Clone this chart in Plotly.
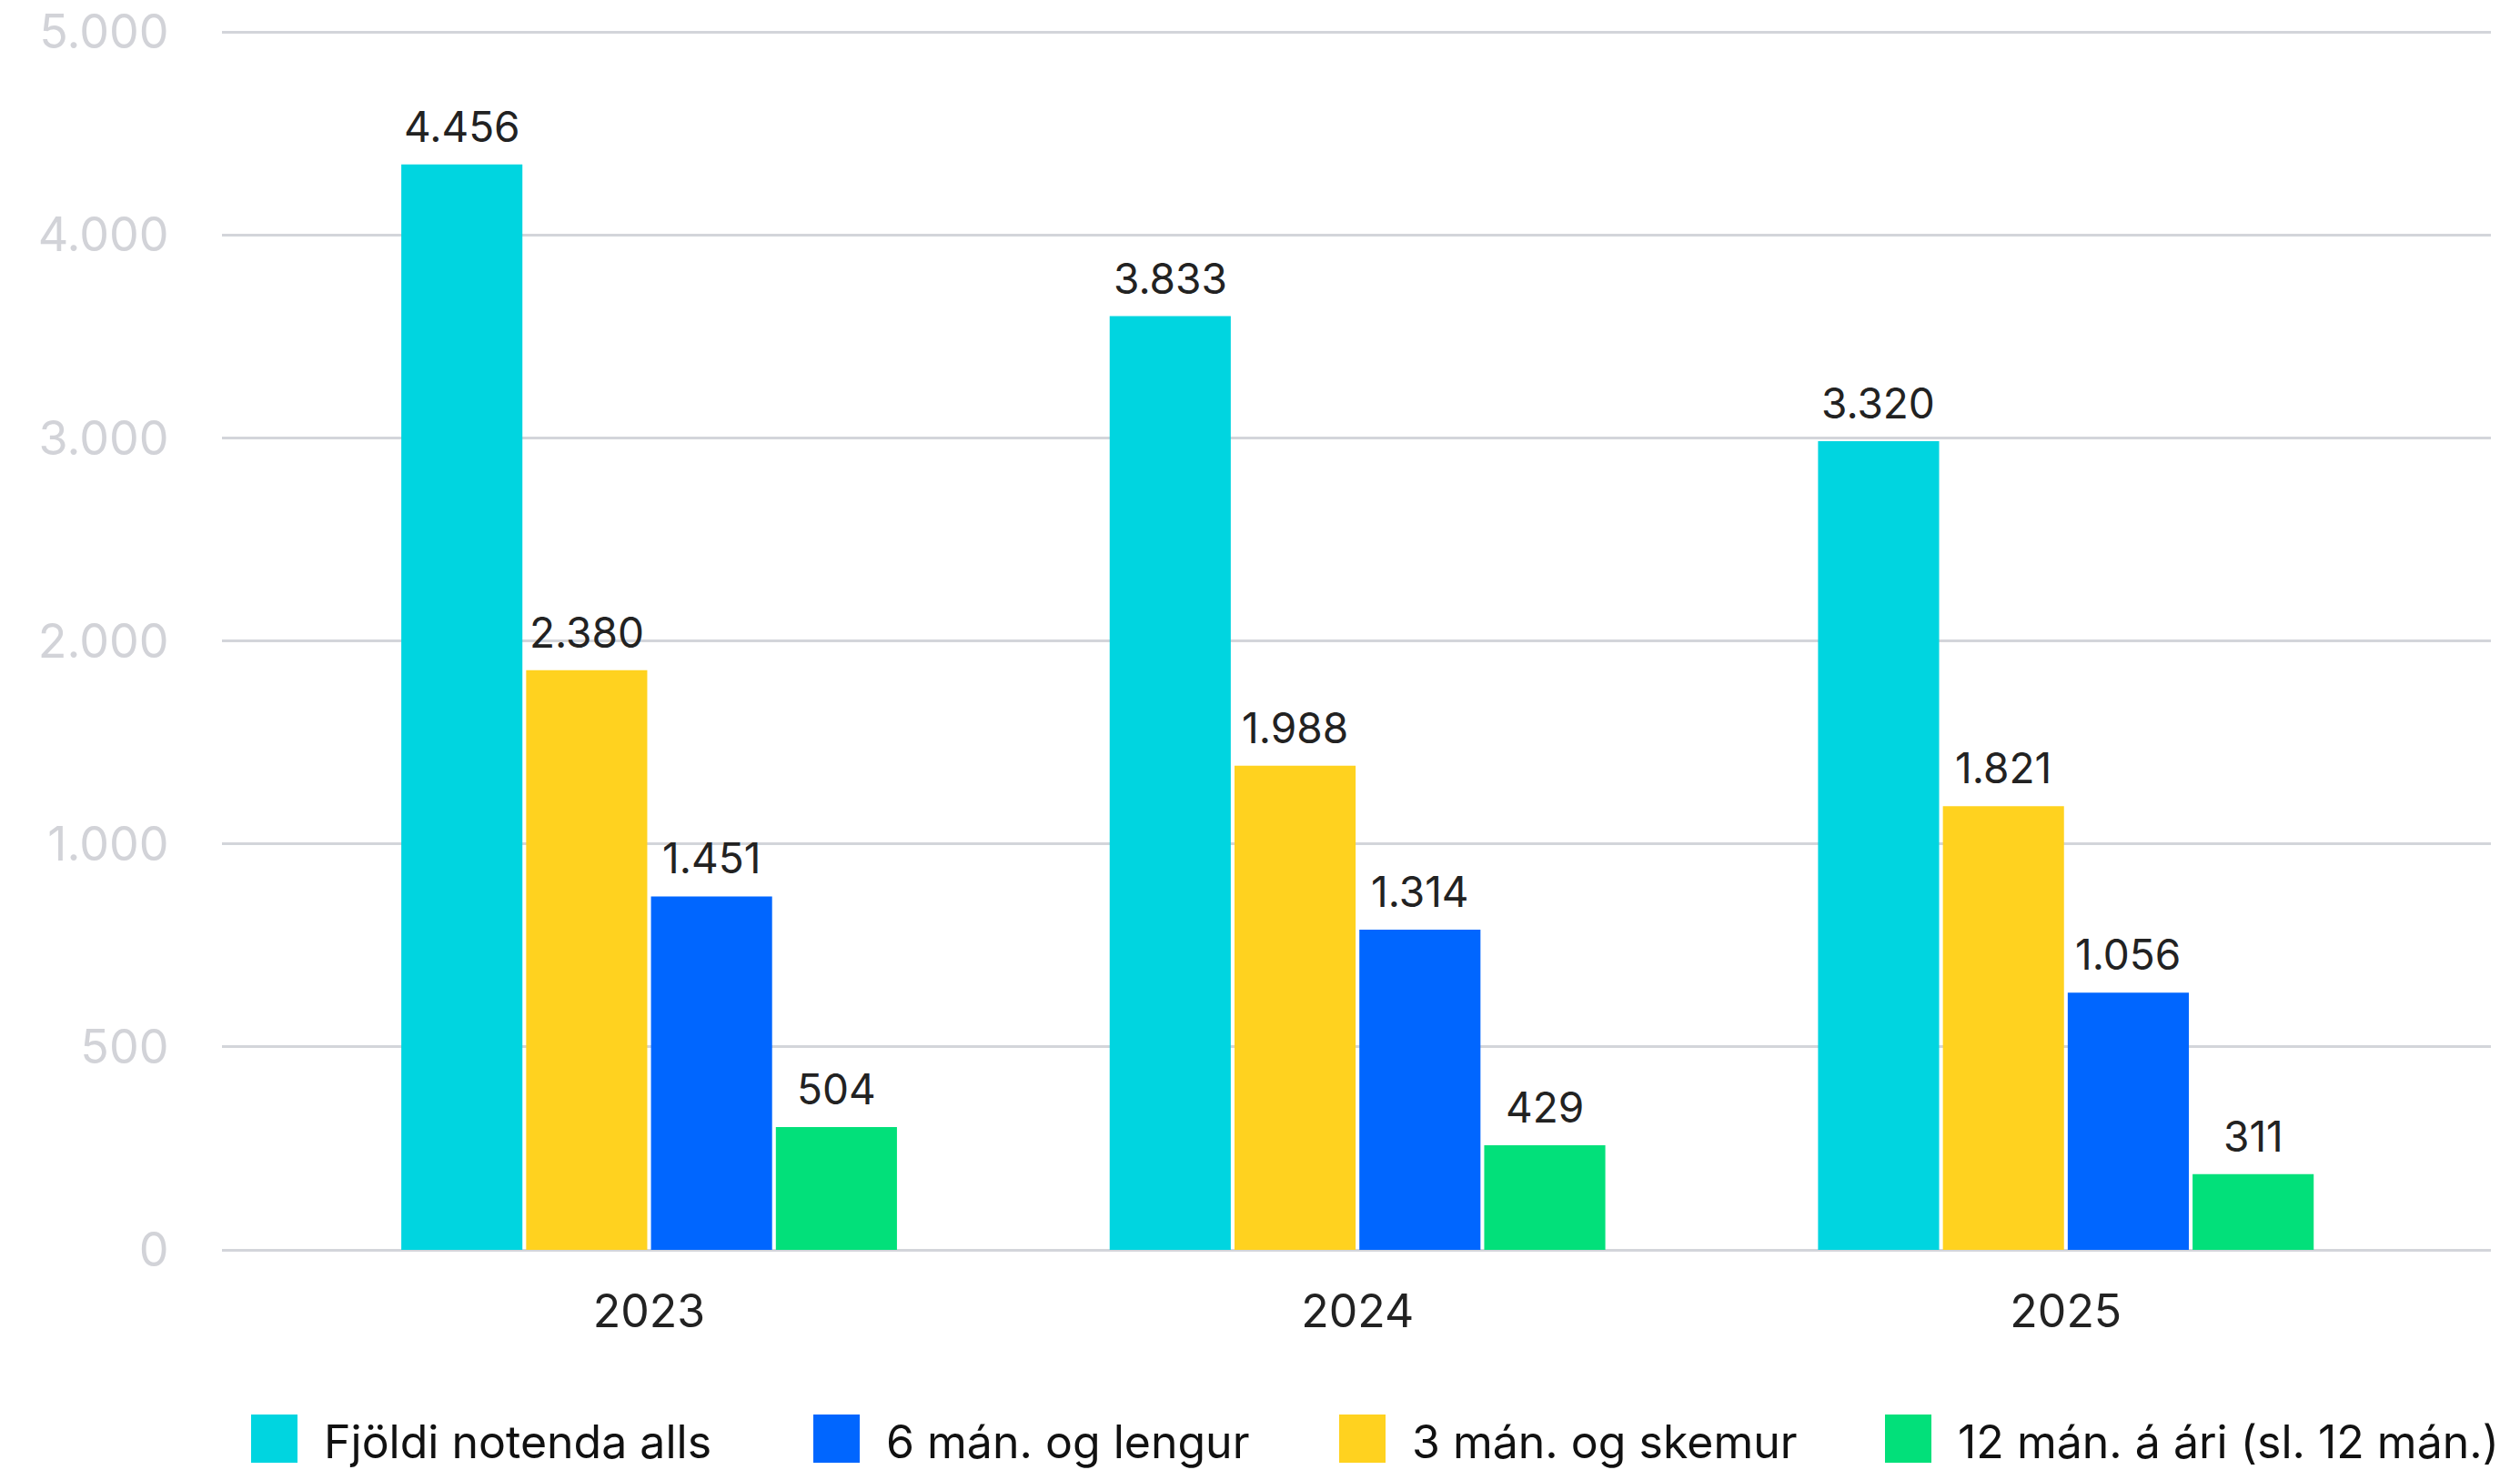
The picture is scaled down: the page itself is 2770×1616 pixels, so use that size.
import plotly.graph_objects as go

# Gögn
ar = ["2023", "2024", "2025"]
fjoldi_alls = [4456, 3833, 3320]
skemur_3man = [2380, 1988, 1821]
lengur_6man = [1451, 1314, 1056]
ar_12man = [504, 429, 311]

y_tick_labels = ["0", "500", "1.000", "2.000", "3.000", "4.000", "5.000"]

# röð súlna innan hvers árs (vinstri -> hægri)
series = [
    ("Fjöldi notenda alls", fjoldi_alls, "#00D5E0"),
    ("3 mán. og skemur", skemur_3man, "#FFD21F"),
    ("6 mán. og lengur", lengur_6man, "#0066FF"),
    ("12 mán. á ári (sl. 12 mán.)", ar_12man, "#02E07A"),
]
# röð í skýringu
legend_order = [0, 2, 1, 3]

FONT = "Inter"
W, H = 2770, 1616
OFF = 8  # spássía body í html-síðunni
Y_TOP = 5000
Y_MAX = 5030
# plot-svæði í skjápunktum: vinstri 244, hægri 2738, 5000-lína 35, 0-lína 1374
px_per_unit = (1374 - 35) / Y_TOP
L = 244 - OFF
R = W - (2738 - OFF)
B = H - (1374 - OFF)
T = (35 - OFF) - round((Y_MAX - Y_TOP) * px_per_unit)
bargap = 0.295
groupgap = 0.03

fig = go.Figure()
xs = list(range(len(ar)))
for name, vals, col in series:
    fig.add_trace(go.Bar(x=xs, y=vals, name=name, marker_color=col,
                         marker_line_width=0, showlegend=False,
                         hovertemplate="%{y:,}<extra>" + name + "</extra>"))

# gildismerki ofan á súlum
n = len(series)
slot = (1 - bargap) / n
for j, (name, vals, col) in enumerate(series):
    for i, v in enumerate(vals):
        fig.add_annotation(x=i + (j - (n - 1) / 2) * slot, y=v,
                           text=f"{v:,}".replace(",", "."), showarrow=False,
                           yanchor="bottom", yshift=12,
                           font=dict(family=FONT, size=46, color="#222222"))

# skýring teiknuð handvirkt (stærri reitir)
def px2x(p):
    return (p - OFF - L) / (W - L - R)

def py2y(p):
    return (H - B - (p - OFF)) / (H - T - B)

legend_swatch_x = [276, 894, 1472, 2072]
sw_w, sw_top, sw_bot = 51, 1555, 1608
for k, idx in enumerate(legend_order):
    name, vals, col = series[idx]
    x0 = legend_swatch_x[k]
    fig.add_shape(type="rect", xref="paper", yref="paper",
                  x0=px2x(x0), x1=px2x(x0 + sw_w),
                  y0=py2y(sw_bot), y1=py2y(sw_top),
                  fillcolor=col, line_width=0)
    fig.add_annotation(xref="paper", yref="paper", x=px2x(x0 + sw_w + 27),
                       y=py2y((sw_top + sw_bot) / 2 + 3), text=name,
                       showarrow=False, xanchor="left", yanchor="middle",
                       font=dict(family=FONT, size=50, color="#111111"))

fig.update_layout(
    width=W, height=H,
    margin=dict(l=L, r=R, t=T, b=B, autoexpand=False),
    paper_bgcolor="white", plot_bgcolor="white",
    barmode="group", bargap=bargap, bargroupgap=groupgap,
    separators=",.",
    font=dict(family=FONT),
    showlegend=False,
)
fig.update_xaxes(tickvals=xs, ticktext=ar, range=[-0.603, 2.6],
                 showgrid=False, zeroline=False, showline=False,
                 ticks="outside", ticklen=24, tickcolor="rgba(0,0,0,0)",
                 automargin=False,
                 tickfont=dict(family=FONT, size=50, color="#222222"))
fig.update_yaxes(range=[0, Y_MAX],
                 tickvals=[k * Y_TOP / 6 for k in range(len(y_tick_labels))],
                 ticktext=y_tick_labels, ticklabeloverflow="allow",
                 showgrid=True, gridcolor="#D3D5DA", gridwidth=3,
                 zeroline=True, zerolinecolor="#D3D5DA", zerolinewidth=3,
                 showline=False, automargin=False,
                 ticks="outside", ticklen=47, tickcolor="rgba(0,0,0,0)",
                 tickfont=dict(family=FONT, size=52, color="#D2D3D8"))

fig.write_html("out.html")
